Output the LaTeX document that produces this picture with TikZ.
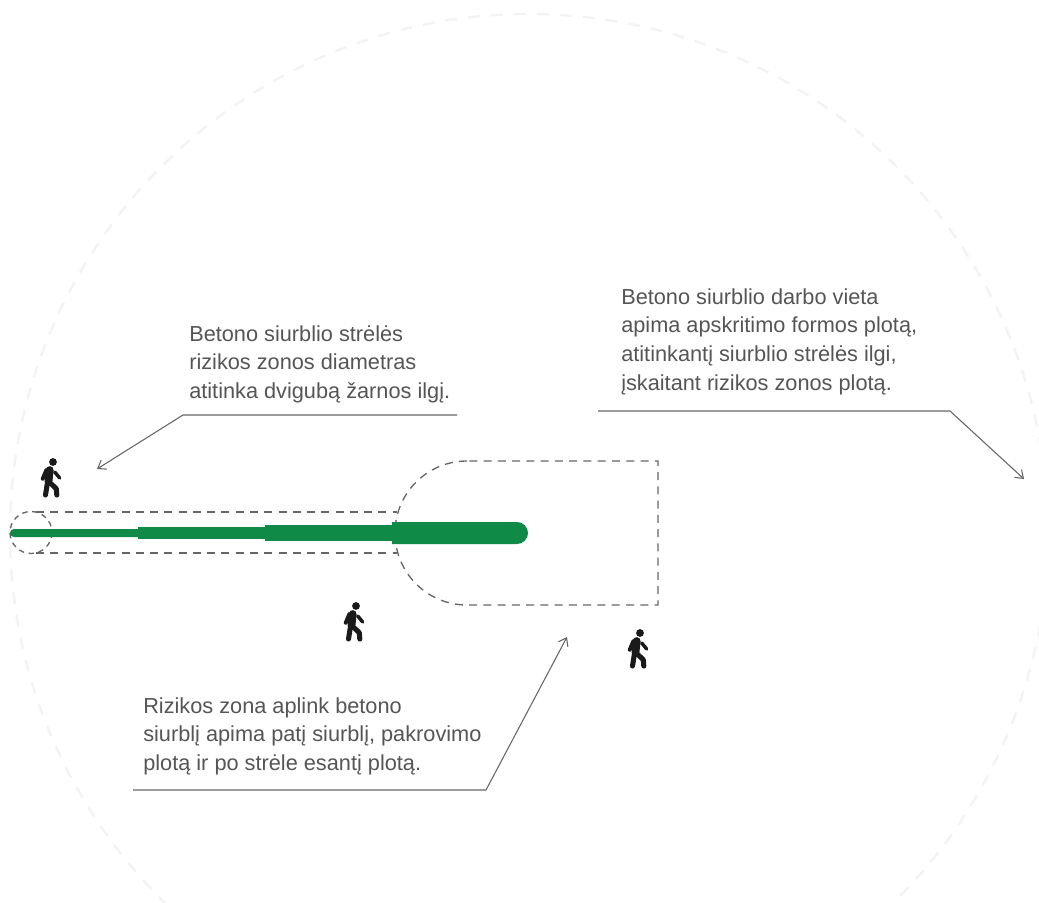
\documentclass[tikz,border=0pt]{standalone}
\usepackage{fontspec}
\setmainfont{Liberation Sans}
\usetikzlibrary{arrows.meta}
\definecolor{boomgreen}{HTML}{0F8A47}
\definecolor{leadgray}{HTML}{666666}
\definecolor{notegray}{HTML}{555555}
\definecolor{reachgray}{HTML}{F3F3F3}
\definecolor{walkerblack}{HTML}{1A1A1A}
\tikzset{
  note/.style={anchor=north west, inner sep=0pt, align=left, text=notegray,
    font=\fontsize{16.3}{21.6}\selectfont},
  leader/.style={draw=leadgray, line width=0.8pt, -{Straight Barb[length=5.5pt,width=8pt]}},
  zone/.style={draw=leadgray, line width=1pt, dash pattern=on 6pt off 4.7pt},
  boom/.style={fill=boomgreen, draw=none},
  walker/.pic={
    \fill[walkerblack] (2,-16) circle (3.9);
    \draw[walkerblack, line width=5.8pt, line cap=round] (-1.3,-8) -- (-2.5,4);
    \draw[walkerblack, line width=3pt, line cap=round, line join=round] (-4.7,-7.7) -- (-8.2,0.7);
    \draw[walkerblack, line width=2.6pt, line cap=round] (3.7,-6) -- (8.7,0);
    \draw[walkerblack, line width=3.8pt, line cap=round] (-3.7,5.7) -- (-5.5,17);
    \draw[walkerblack, line width=3.8pt, line cap=round, line join=round] (0,5.7) -- (5.3,10.7) -- (5.8,17);
  }
}
\begin{document}
\begin{tikzpicture}[x=0.75pt, y=-0.75pt]
  \useasboundingbox (0,0) rectangle (1039,903);
  \clip (0,0) rectangle (1039,903);
  % reach of the pump
  \draw[reachgray, line width=1.8pt, dash pattern=on 9pt off 8.2pt] (529,533) circle (519);
  % risk zone
  \draw[zone] (36,512) -- (397,512);
  \draw[zone] (36,553) -- (397,553);
  \draw[zone, dash pattern=on 4pt off 3.5pt] (31,532.5) circle (21);
  \draw[zone] (467,461) arc[start angle=-90, delta angle=-180, radius=72] -- (658,605) -- (658,461) -- cycle;
  % boom
  \fill[boom] (14,529) -- (138,529) -- (138,537) -- (14,537) arc[start angle=90, delta angle=180, radius=4] -- cycle;
  \fill[boom] (138,527) rectangle (266,539);
  \fill[boom] (265,525) rectangle (393,541);
  \fill[boom] (392,522) -- (517,522) arc[start angle=-90, delta angle=180, radius=11] -- (392,544) -- cycle;
  % people
  \pic at (51,478) {walker};
  \pic at (354,622) {walker};
  \pic at (638,649) {walker};
  % notes
  \node[note] (diam) at (189,325) {Betono siurblio strėlės\\rizikos zonos diametras\\atitinka dvigubą žarnos ilgį.};
  \node[note] (work) at (621,288) {Betono siurblio darbo vieta\\apima apskritimo formos plotą,\\atitinkantį siurblio strėlės ilgi,\\įskaitant rizikos zonos plotą.};
  \node[note] (risk) at (143,697) {Rizikos zona aplink betono\\siurblį apima patį siurblį, pakrovimo\\plotą ir po strėle esantį plotą.};
  % leaders
  \coordinate (diamstart) at (457,415);
  \coordinate (diambend) at (183,415);
  \coordinate (diamend) at (97,469);
  \coordinate (workstart) at (598,411);
  \coordinate (workbend) at (950,411);
  \coordinate (workend) at (1024,479);
  \coordinate (riskstart) at (133,790);
  \coordinate (riskbend) at (486,790);
  \coordinate (riskend) at (567,637);
  \draw[leader] (diamstart) -- (diambend) -- (diamend);
  \draw[leader] (workstart) -- (workbend) -- (workend);
  \draw[leader] (riskstart) -- (riskbend) -- (riskend);
\end{tikzpicture}
\end{document}
